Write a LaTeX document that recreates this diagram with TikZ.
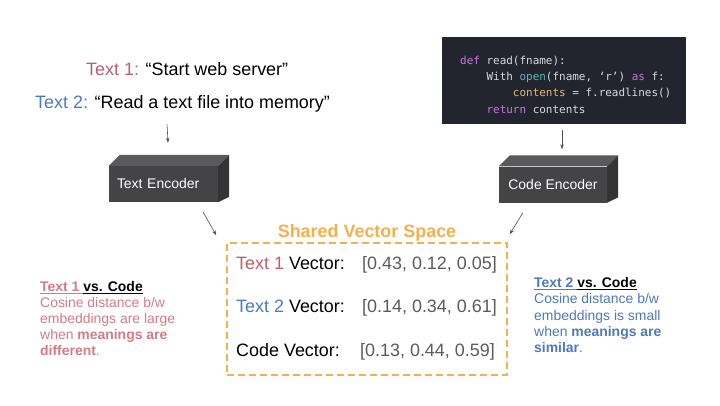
\documentclass[tikz,border=0pt]{standalone}
\usepackage{fontspec}
\setmainfont{Liberation Sans}
\setmonofont{DejaVu Sans Mono}
\usetikzlibrary{arrows.meta}
\definecolor{txtonered}{HTML}{B9606E}
\definecolor{txttwoblue}{HTML}{4C7AC1}
\definecolor{noteonered}{HTML}{D47B85}
\definecolor{notetwoblue}{HTML}{4E79BE}
\definecolor{spaceorange}{HTML}{F5B04E}
\definecolor{valgray}{HTML}{5C5C5C}
\definecolor{arrowgray}{HTML}{505050}
\definecolor{encfront}{HTML}{444446}
\definecolor{enctop}{HTML}{5A5A5C}
\definecolor{encside}{HTML}{343436}
\definecolor{codebg}{HTML}{22252D}
\definecolor{codefg}{HTML}{D6DAE0}
\definecolor{codekey}{HTML}{C477DB}
\definecolor{codefun}{HTML}{5DB6BE}
\definecolor{codevar}{HTML}{E2B86C}

\tikzset{
  encoder/.style={fill=encfront, minimum height=36bp, inner sep=0pt,
    text=white, font=\fontsize{14}{16}\selectfont},
  arr/.style={-{Stealth[length=5bp,width=3.5bp]}, draw=arrowgray, line width=0.6bp},
  bigtext/.style={font=\fontsize{18}{22}\selectfont, inner sep=0pt, anchor=base west},
  note/.style={font=\fontsize{14}{16.2}\selectfont, align=left, inner sep=0pt, anchor=north west},
}

% top and side faces of an encoder block
\newcommand{\encoderfaces}[1]{%
  \fill[enctop] (#1.north west) -- ++(11,-11) -- ([shift={(11,-11)}]#1.north east) -- (#1.north east) -- cycle;
  \fill[encside] (#1.north east) -- ++(11,-11) -- ++(0,42) -- (#1.south east) -- cycle;}

\begin{document}
\begin{tikzpicture}[x=1bp,y=-1bp]
\useasboundingbox[fill=white] (0,0) rectangle (720,405);

% Input texts
\node[bigtext] (t1) at (86,75.5) {\textcolor{txtonered}{Text 1:} “Start web server”};
\node[bigtext] (t2) at (35,108) {\textcolor{txttwoblue}{Text 2:} “Read a text file into memory”};

% Code snippet
\node[fill=codebg, minimum width=244bp, minimum height=87bp, inner sep=0pt] (codebox) at (564,80.5) {};
\node[anchor=base west, inner sep=0pt, align=left, text=codefg,
  font=\ttfamily\fontsize{11}{16.3}\selectfont] (code) at (460,113)
  {\textcolor{codekey}{def} read(fname):\\
   \ \ \ \ With \textcolor{codefun}{open}(fname, ‘r’) \textcolor{codekey}{as} f:\\
   \ \ \ \ \ \ \ \ \textcolor{codevar}{contents} = f.readlines()\\
   \ \ \ \ \textcolor{codekey}{return} contents};

% Encoders
\node[encoder, minimum width=109bp, text width=93bp, align=left] (txtenc) at (163.5,184) {Text Encoder};
\encoderfaces{txtenc}
\node[encoder, minimum width=108bp] (codeenc) at (553,184.5) {Code Encoder};
\encoderfaces{codeenc}

% Shared vector space
\node[draw=spaceorange, dash pattern=on 7bp off 4bp, line width=1.5bp,
  minimum width=280bp, minimum height=132bp] (space) at (367,309) {};
\node[anchor=base, inner sep=0pt, text=spaceorange, font=\fontsize{18}{22}\selectfont\bfseries]
  (spacetitle) at (367,237) {Shared Vector Space};

\node[bigtext] (v1) at (236,269) {\textcolor{txtonered}{Text 1} Vector:};
\node[bigtext, text=valgray] (v1val) at (362,269) {[0.43, 0.12, 0.05]};
\node[bigtext] (v2) at (236,312) {\textcolor{txttwoblue}{Text 2} Vector:};
\node[bigtext, text=valgray] (v2val) at (362,312) {[0.14, 0.34, 0.61]};
\node[bigtext] (v3) at (236,356) {Code Vector:};
\node[bigtext, text=valgray] (v3val) at (360,356) {[0.13, 0.44, 0.59]};

% Notes
\node[note, text=noteonered] (note1) at (40,281)
  {{\bfseries\underline{Text 1\ }\textcolor{black}{\underline{vs. Code}}}\\
   Cosine distance b/w\\
   embeddings are large\\
   when \textbf{meanings are}\\
   \textbf{different}.};
\node[note, text=notetwoblue] (note2) at (534,277.5)
  {{\bfseries\underline{Text 2\ }\textcolor{black}{\underline{vs. Code}}}\\
   Cosine distance b/w\\
   embeddings is small\\
   when \textbf{meanings are}\\
   \textbf{similar}.};

% Arrows
\draw[arr] ([shift={(-15.5,12)}]t2.south) -- ([shift={(4.5,-23)}]txtenc.north);
\draw[arr] ([shift={(-2,6)}]codebox.south) -- ([shift={(9,-17)}]codeenc.north);
\draw[arr] ([shift={(-15,10)}]txtenc.south east) -- ([shift={(-10,-7)}]space.north west);
\draw[arr] ([shift={(24,10)}]codeenc.south west) -- ([shift={(2,-8)}]space.north east);
\end{tikzpicture}
\end{document}
